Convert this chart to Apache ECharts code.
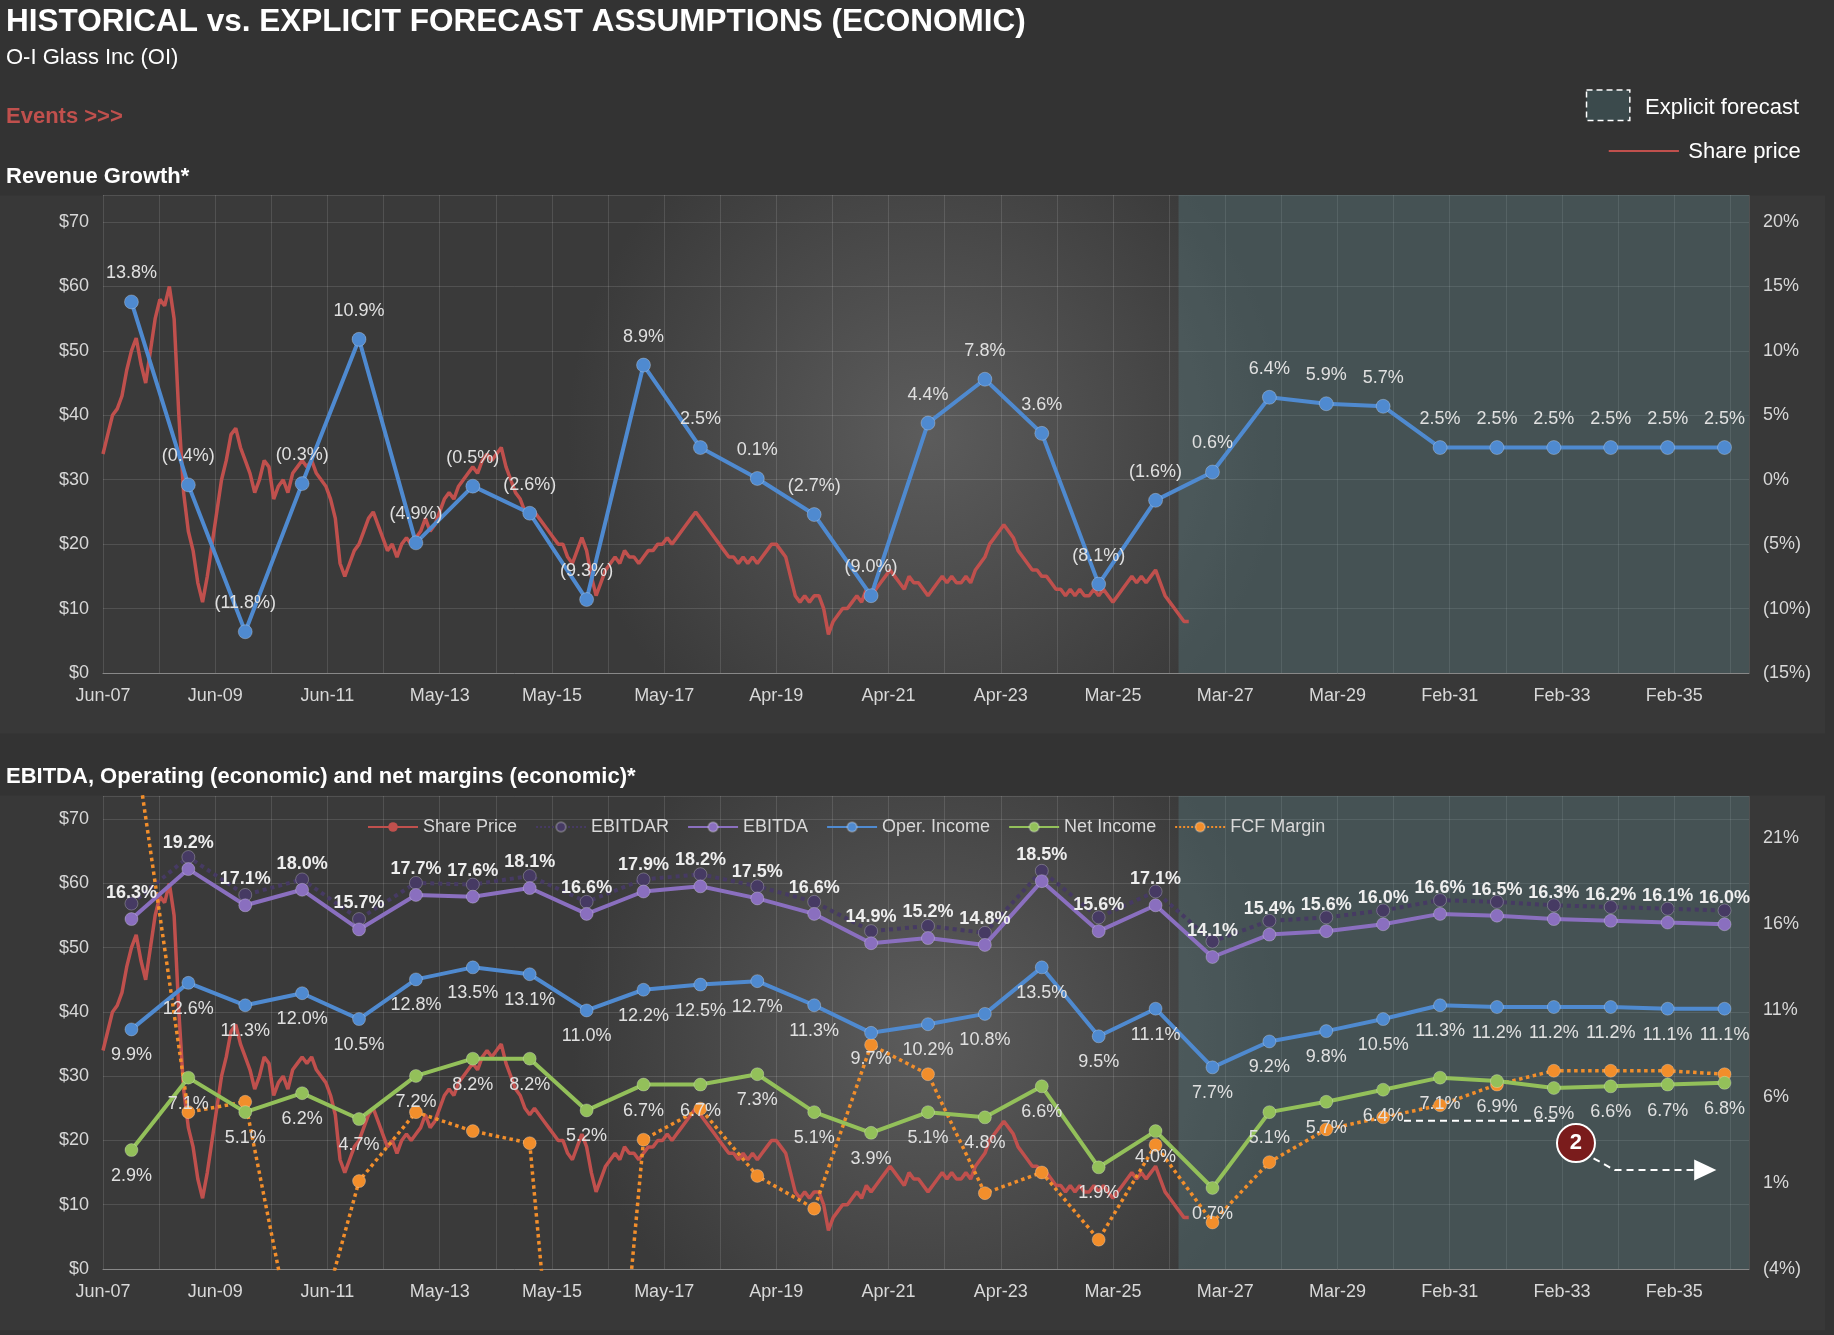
<!DOCTYPE html>
<html>
<head>
<meta charset="utf-8">
<script src="https://cdn.jsdelivr.net/npm/echarts@6/dist/echarts.min.js"></script>
<style>
  html, body { margin: 0; padding: 0; background: #333333; }
  #chart { width: 1834px; height: 1335px; }
</style>
</head>
<body>
<div id="chart"></div>
<script>
// tick labels on the x axis, one every ~720 days from Jun-07
const tickLabels = ['Jun-07','Jun-09','Jun-11','May-13','May-15','May-17','Apr-19','Apr-21',
  'Apr-23','Mar-25','Mar-27','Mar-29','Feb-31','Feb-33','Feb-35'];

// fiscal years (points sit at December of each year)
const years = [2007,2008,2009,2010,2011,2012,2013,2014,2015,2016,2017,2018,2019,2020,2021,
  2022,2023,2024,2025,2026,2027,2028,2029,2030,2031,2032,2033,2034,2035];

// monthly share price from Jun 2007
const sharePrice = [
  34,37,40,41,43,47,50,
  52,48,45,50,55,58,57,60,55,40,28,22,
  19,14,11,15,20,25,30,33,37,38,35,33,
  31,28,30,33,32,27,29,30,28,31,32,33,
  32,33,31,30,29,27,24,17,15,17,19,20,
  22,24,25,23,21,19,20,18,20,21,20,21,
  22,24,22,23,25,27,28,27,29,30,31,32,
  31,33,34,33,34,35,32,30,28,27,25,24,
  25,24,23,22,21,20,20,18,17,19,21,19,
  15,12,14,16,17,18,17,19,18,18,17,18,
  19,19,20,20,21,20,21,22,23,24,25,24,
  23,22,21,20,19,18,18,17,18,17,18,17,
  18,19,20,20,19,18,15,12,11,12,11,12,
  12,10,6,8,9,10,10,11,12,11,13,12,
  13,14,15,16,15,14,13,15,14,14,13,12,
  13,14,15,14,15,14,14,15,14,16,17,18,
  20,21,22,23,22,21,19,18,17,16,16,15,
  15,14,13,13,12,13,12,13,12,12,13,12,
  13,12,11,12,13,14,15,14,15,14,15,16,
  14,12,11,10,9,8,8
];

const revenueGrowth = [13.8,-0.4,-11.8,-0.3,10.9,-4.9,-0.5,-2.6,-9.3,8.9,2.5,0.1,-2.7,-9.0,4.4,
  7.8,3.6,-8.1,-1.6,0.6,6.4,5.9,5.7,2.5,2.5,2.5,2.5,2.5,2.5];

const ebitdar = [17.2,19.9,17.7,18.6,16.3,18.4,18.3,18.8,17.3,18.6,18.9,18.2,17.3,15.6,15.9,15.5,
  19.1,16.4,17.9,15.0,16.2,16.4,16.8,17.4,17.3,17.1,17.0,16.9,16.8];
const ebitda = [16.3,19.2,17.1,18.0,15.7,17.7,17.6,18.1,16.6,17.9,18.2,17.5,16.6,14.9,15.2,14.8,
  18.5,15.6,17.1,14.1,15.4,15.6,16.0,16.6,16.5,16.3,16.2,16.1,16.0];
const operIncome = [9.9,12.6,11.3,12.0,10.5,12.8,13.5,13.1,11.0,12.2,12.5,12.7,11.3,9.7,10.2,10.8,
  13.5,9.5,11.1,7.7,9.2,9.8,10.5,11.3,11.2,11.2,11.2,11.1,11.1];
const netIncome = [2.9,7.1,5.1,6.2,4.7,7.2,8.2,8.2,5.2,6.7,6.7,7.3,5.1,3.9,5.1,4.8,
  6.6,1.9,4.0,0.7,5.1,5.7,6.4,7.1,6.9,6.5,6.6,6.7,6.8];
const fcfMargin = [27.9,5.1,5.7,-10.9,1.1,5.1,4.0,3.3,-32.5,3.5,5.3,1.4,-0.5,9.0,7.3,0.4,
  1.6,-2.3,3.2,-1.3,2.2,4.1,4.8,5.5,6.7,7.5,7.5,7.5,7.3];

// x axis unit: one tick interval (~23.67 months) = 24 units
const K = 24 / 23.67;
const forecastStart = 230;
const xMax = 352;
const S = 1.17;

const priceData = sharePrice.map((v, i) => [i * K, v]);
const annual = arr => years.map((y, i) => [((y - 2007) * 12 + 6) * K, arr[i]]);
const pct = v => v < 0 ? '(' + Math.abs(v).toFixed(1) + '%)' : v.toFixed(1) + '%';
const pctAxis = v => v < 0 ? '(' + Math.abs(v) + '%)' : v + '%';

const FONT = "'Liberation Sans Narrow', 'Liberation Sans', sans-serif";
const axisText = { color: '#d8d8d8', fontSize: 18, fontFamily: FONT };
const plotBg = {
  type: 'radial', x: 0.5, y: 0.5, r: 0.75,
  colorStops: [{ offset: 0, color: '#5c5c5c' }, { offset: 1, color: '#3a3a3a' }]
};

const xAxisBase = gi => ({
  type: 'value', gridIndex: gi, min: 0, max: xMax, interval: 12,
  axisLine: { show: true, lineStyle: { color: '#888' } },
  axisTick: { show: false },
  splitLine: { show: true, lineStyle: { color: 'rgba(255,255,255,0.12)' } },
  axisLabel: Object.assign({}, axisText, {
    margin: 14, showMaxLabel: false,
    formatter: v => v % 24 === 0 ? (tickLabels[v / 24] || '') : ''
  })
});
const yAxisBase = (gi, min, max, interval, fmt, right) => ({
  type: 'value', gridIndex: gi, min: min, max: max, interval: interval,
  position: right ? 'right' : 'left',
  axisLine: { show: false }, axisTick: { show: false },
  splitLine: { show: !right, lineStyle: { color: 'rgba(255,255,255,0.12)' } },
  axisLabel: Object.assign({}, axisText, { showMaxLabel: false, formatter: fmt, margin: 14 })
});

const forecastArea = {
  silent: true,
  itemStyle: { color: 'rgba(95,140,145,0.30)' },
  data: [[{ xAxis: forecastStart }, { xAxis: xMax }]]
};

const lineSeries = (name, arr, color, opts) => Object.assign({
  name: name, type: 'line', xAxisIndex: 1, yAxisIndex: 3, data: annual(arr),
  symbol: 'circle', symbolSize: 13,
  lineStyle: { color: color, width: 4 },
  itemStyle: { color: color, borderColor: 'rgba(255,255,255,0.25)', borderWidth: 1 },
  z: 5
}, opts);

const option = {
  backgroundColor: '#333333',
  animation: false,
  grid: [
    { left: 103, right: 85, top: 195, bottom: 662, show: true, backgroundColor: plotBg, borderWidth: 0 },
    { left: 103, right: 85, top: 796, bottom: 66, show: true, backgroundColor: plotBg, borderWidth: 0 }
  ],
  xAxis: [xAxisBase(0), xAxisBase(1)],
  yAxis: [
    yAxisBase(0, 0, 74.2, 10, v => '$' + v, false),
    yAxisBase(0, -15, 22.1, 5, pctAxis, true),
    yAxisBase(1, 0, 73.6, 10, v => '$' + v, false),
    yAxisBase(1, -4, 23.44, 5, pctAxis, true)
  ],
  legend: {
    top: 813, left: 362, itemGap: 18, itemWidth: 50, itemHeight: 12,
    textStyle: { color: '#d8d8d8', fontSize: 18, fontFamily: FONT },
    data: ['Share Price', 'EBITDAR', 'EBITDA', 'Oper. Income', 'Net Income', 'FCF Margin']
  },
  graphic: [
    { type: 'rect', z: -10, shape: { x: 0, y: 167 * S, width: 1560 * S, height: 460 * S }, style: { fill: '#383838' } },
    { type: 'rect', z: -10, shape: { x: 0, y: 680 * S, width: 1560 * S, height: 457 * S }, style: { fill: '#383838' } },
    { type: 'text', left: 6, top: 6, style: { text: 'HISTORICAL vs. EXPLICIT FORECAST ASSUMPTIONS (ECONOMIC)', fill: '#ffffff', font: "bold 31.5px 'Liberation Sans', sans-serif" } },
    { type: 'text', left: 6, top: 47, style: { text: 'O-I Glass Inc (OI)', fill: '#ffffff', font: "22px 'Liberation Sans', sans-serif" } },
    { type: 'text', left: 6, top: 106, style: { text: 'Events >>>', fill: '#c0504d', font: "bold 22px 'Liberation Sans', sans-serif" } },
    { type: 'text', left: 6, top: 166, style: { text: 'Revenue Growth*', fill: '#ffffff', font: "bold 22px 'Liberation Sans', sans-serif" } },
    { type: 'text', left: 6, top: 766, style: { text: 'EBITDA, Operating (economic) and net margins (economic)*', fill: '#ffffff', font: "bold 22px 'Liberation Sans', sans-serif" } },
    { type: 'rect', shape: { x: 1356 * S, y: 77 * S, width: 37 * S, height: 26 * S }, style: { fill: '#3b4a4c', stroke: '#ffffff', lineWidth: 1.5, lineDash: [6, 4] } },
    { type: 'text', left: 1406 * S, top: 97, style: { text: 'Explicit forecast', fill: '#ffffff', font: "22px 'Liberation Sans', sans-serif" } },
    { type: 'line', shape: { x1: 1375 * S, y1: 129 * S, x2: 1435 * S, y2: 129 * S }, style: { stroke: '#c0504d', lineWidth: 2 } },
    { type: 'text', left: 1443 * S, top: 141, style: { text: 'Share price', fill: '#ffffff', font: "22px 'Liberation Sans', sans-serif" } },
    { type: 'line', z: 20, shape: { x1: 1200 * S, y1: 958 * S, x2: 1330 * S, y2: 958 * S }, style: { stroke: '#ffffff', lineWidth: 2, lineDash: [7, 5] } },
    { type: 'polyline', z: 20, shape: { points: [[1362 * S, 990 * S], [1380 * S, 1000 * S], [1450 * S, 1000 * S]] }, style: { stroke: '#ffffff', fill: null, lineWidth: 2, lineDash: [7, 5] } },
    { type: 'polygon', z: 20, shape: { points: [[1448 * S, 991 * S], [1467 * S, 1000 * S], [1448 * S, 1009 * S]] }, style: { fill: '#ffffff' } },
    { type: 'circle', z: 21, shape: { cx: 1347 * S, cy: 977 * S, r: 19 }, style: { fill: '#7a1c1c', stroke: '#ffffff', lineWidth: 2 } },
    { type: 'text', z: 22, x: 1347 * S, y: 977 * S, style: { text: '2', fill: '#ffffff', font: "bold 22px 'Liberation Sans', sans-serif", align: 'center', verticalAlign: 'middle' } }
  ],
  series: [
    {
      name: 'Share price', type: 'line', xAxisIndex: 0, yAxisIndex: 0, data: priceData,
      showSymbol: false, lineStyle: { color: '#c0504d', width: 3.5 }, itemStyle: { color: '#c0504d' },
      markArea: forecastArea, z: 3
    },
    {
      name: 'Revenue Growth', type: 'line', xAxisIndex: 0, yAxisIndex: 1, data: annual(revenueGrowth),
      symbol: 'circle', symbolSize: 14,
      lineStyle: { color: '#4f8ad0', width: 4 },
      itemStyle: { color: '#4f8ad0', borderColor: 'rgba(255,255,255,0.25)', borderWidth: 1 },
      label: { show: true, position: 'top', distance: 12, color: '#e0e0e0', fontSize: 18, fontFamily: FONT, formatter: p => pct(p.value[1]) },
      z: 5
    },
    {
      name: 'Share Price', type: 'line', xAxisIndex: 1, yAxisIndex: 2, data: priceData,
      showSymbol: false, symbol: 'none', lineStyle: { color: '#c0504d', width: 3.5 }, itemStyle: { color: '#c0504d' },
      markArea: forecastArea, z: 3
    },
    lineSeries('EBITDAR', ebitdar, '#463a63', { lineStyle: { color: '#463a63', width: 4, type: 'dotted' }, z: 4 }),
    lineSeries('EBITDA', ebitda, '#8a6fbf', {
      label: { show: true, position: 'top', distance: 10, color: '#eeeeee', fontWeight: 'bold', fontSize: 18, fontFamily: FONT, formatter: p => pct(p.value[1]) }
    }),
    lineSeries('Oper. Income', operIncome, '#4f8ad0', {
      label: { show: true, position: 'bottom', distance: 10, color: '#e0e0e0', fontSize: 18, fontFamily: FONT, formatter: p => pct(p.value[1]) }
    }),
    lineSeries('Net Income', netIncome, '#93c05a', {
      label: { show: true, position: 'bottom', distance: 10, color: '#e0e0e0', fontSize: 18, fontFamily: FONT, formatter: p => pct(p.value[1]) }
    }),
    lineSeries('FCF Margin', fcfMargin, '#f28e2b', { lineStyle: { color: '#f28e2b', width: 3.5, type: 'dotted' }, z: 4 })
  ]
};

const myChart = echarts.init(document.getElementById('chart'));
myChart.setOption(option);
</script>
</body>
</html>
